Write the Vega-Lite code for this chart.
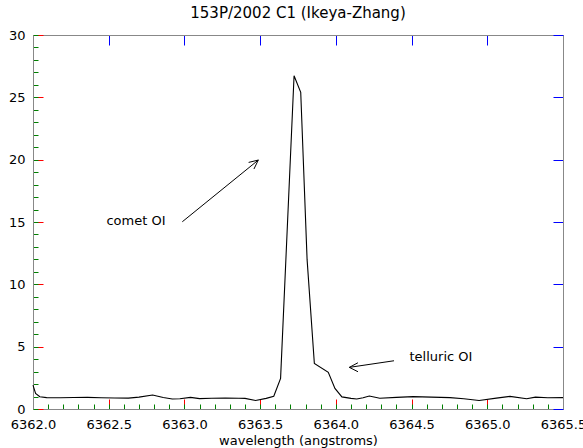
{
  "$schema": "https://vega.github.io/schema/vega-lite/v6.json",
  "width": 530,
  "height": 374,
  "autosize": "none",
  "padding": {"left": 33, "top": 35, "right": 20, "bottom": 39},
  "background": "white",
  "title": {"text": "153P/2002 C1 (Ikeya-Zhang)", "font": "DejaVu Sans", "fontSize": 15, "fontWeight": "normal", "color": "black", "anchor": "middle", "offset": 8},
  "config": {
    "view": {"stroke": "black", "strokeWidth": 1}
  },
  "datasets": {
    "spec": [
      {"w": 6362.0, "f": 1.92}, {"w": 6362.017, "f": 1.25}, {"w": 6362.045, "f": 0.98}, {"w": 6362.09, "f": 0.91},
      {"w": 6362.18, "f": 0.9}, {"w": 6362.27, "f": 0.92}, {"w": 6362.36, "f": 0.93}, {"w": 6362.45, "f": 0.9},
      {"w": 6362.54, "f": 0.88}, {"w": 6362.63, "f": 0.87}, {"w": 6362.7, "f": 0.95}, {"w": 6362.79, "f": 1.12},
      {"w": 6362.86, "f": 0.92}, {"w": 6362.92, "f": 0.8}, {"w": 6362.97, "f": 0.82}, {"w": 6363.04, "f": 0.93},
      {"w": 6363.1, "f": 0.83}, {"w": 6363.18, "f": 0.86}, {"w": 6363.27, "f": 0.88}, {"w": 6363.36, "f": 0.86},
      {"w": 6363.4, "f": 0.85}, {"w": 6363.47, "f": 0.68}, {"w": 6363.54, "f": 0.85}, {"w": 6363.59, "f": 1.02},
      {"w": 6363.635, "f": 2.46}, {"w": 6363.724, "f": 26.73}, {"w": 6363.768, "f": 25.4}, {"w": 6363.81, "f": 12.0},
      {"w": 6363.858, "f": 3.65}, {"w": 6363.95, "f": 2.94}, {"w": 6363.994, "f": 1.65}, {"w": 6364.04, "f": 0.97},
      {"w": 6364.1, "f": 0.85}, {"w": 6364.138, "f": 0.8}, {"w": 6364.18, "f": 0.9}, {"w": 6364.221, "f": 1.04},
      {"w": 6364.29, "f": 0.86}, {"w": 6364.4, "f": 0.93}, {"w": 6364.51, "f": 0.99}, {"w": 6364.63, "f": 0.95},
      {"w": 6364.754, "f": 0.91}, {"w": 6364.845, "f": 0.82}, {"w": 6364.946, "f": 0.68}, {"w": 6365.06, "f": 0.87},
      {"w": 6365.15, "f": 1.01}, {"w": 6365.26, "f": 0.82}, {"w": 6365.318, "f": 0.95}, {"w": 6365.4, "f": 0.9},
      {"w": 6365.5, "f": 0.91}
    ],
    "arrows": [
      {"x": 6362.986, "y": 15.02, "x2": 6363.488, "y2": 19.97},
      {"x": 6363.488, "y": 19.97, "x2": 6363.424, "y2": 19.78},
      {"x": 6363.488, "y": 19.97, "x2": 6363.459, "y2": 19.25},
      {"x": 6364.384, "y": 3.87, "x2": 6364.089, "y2": 3.34},
      {"x": 6364.089, "y": 3.34, "x2": 6364.146, "y2": 3.71},
      {"x": 6364.089, "y": 3.34, "x2": 6364.146, "y2": 2.99}
    ],
    "labels": [
      {"x": 6362.68, "y": 15.08, "text": "comet OI"},
      {"x": 6364.694, "y": 4.19, "text": "telluric OI"}
    ]
  },
  "layer": [
    {
      "data": {"name": "spec"},
      "mark": {"type": "line", "color": "black", "strokeWidth": 1.1},
      "encoding": {
        "x": {"field": "w", "type": "quantitative", "scale": {"domain": [6362, 6365.5], "nice": false, "zero": false},
              "axis": {"orient": "bottom", "grid": false, "values": [6362, 6362.5, 6363, 6363.5, 6364, 6364.5, 6365, 6365.5], "format": ".1f", "tickColor": "red", "tickSize": -10, "labelPadding": 19, "labelFlush": false, "labelOverlap": false, "labelColor": "black", "labelFont": "DejaVu Sans", "labelFontSize": 13, "title": "wavelength (angstroms)", "titleFont": "DejaVu Sans", "titleFontSize": 13, "titleFontWeight": "normal", "titleColor": "black", "titlePadding": 3}},
        "y": {"field": "f", "type": "quantitative", "scale": {"domain": [0, 30], "nice": false, "zero": false},
              "axis": {"orient": "left", "grid": false, "values": [0, 5, 10, 15, 20, 25, 30], "tickColor": "red", "tickSize": -10, "labelPadding": 18, "labelColor": "black", "labelFont": "DejaVu Sans", "labelFontSize": 13, "title": null}}
      }
    },
    {
      "data": {"name": "spec"},
      "mark": {"type": "line", "strokeOpacity": 0},
      "encoding": {
        "x": {"field": "w", "type": "quantitative",
              "axis": {"orient": "top", "grid": false, "values": [6362, 6362.5, 6363, 6363.5, 6364, 6364.5, 6365, 6365.5], "tickColor": "blue", "tickSize": -10, "labels": false, "title": null}},
        "y": {"field": "f", "type": "quantitative",
              "axis": {"orient": "right", "grid": false, "values": [0, 5, 10, 15, 20, 25, 30], "tickColor": "blue", "tickSize": -10, "labels": false, "title": null}}
      }
    },
    {
      "data": {"name": "spec"},
      "mark": {"type": "line", "strokeOpacity": 0},
      "encoding": {
        "x": {"field": "w", "type": "quantitative",
              "axis": {"orient": "bottom", "grid": false, "values": [6362.0, 6362.1, 6362.2, 6362.3, 6362.4, 6362.5, 6362.6, 6362.7, 6362.8, 6362.9, 6363.0, 6363.1, 6363.2, 6363.3, 6363.4, 6363.5, 6363.6, 6363.7, 6363.8, 6363.9, 6364.0, 6364.1, 6364.2, 6364.3, 6364.4, 6364.5, 6364.6, 6364.7, 6364.8, 6364.9, 6365.0, 6365.1, 6365.2, 6365.3, 6365.4, 6365.5], "tickColor": "green", "tickSize": -5, "labels": false, "title": null}},
        "y": {"field": "f", "type": "quantitative",
              "axis": {"orient": "left", "grid": false, "values": [0, 1, 2, 3, 4, 5, 6, 7, 8, 9, 10, 11, 12, 13, 14, 15, 16, 17, 18, 19, 20, 21, 22, 23, 24, 25, 26, 27, 28, 29, 30], "tickColor": "green", "tickSize": -5, "labels": false, "title": null}}
      }
    },
    {
      "data": {"name": "arrows"},
      "mark": {"type": "rule", "color": "black", "strokeWidth": 1},
      "encoding": {
        "x": {"field": "x", "type": "quantitative", "axis": null},
        "y": {"field": "y", "type": "quantitative", "axis": null},
        "x2": {"field": "x2"},
        "y2": {"field": "y2"}
      }
    },
    {
      "data": {"name": "labels"},
      "mark": {"type": "text", "font": "DejaVu Sans", "fontSize": 13, "color": "black", "align": "center", "baseline": "middle"},
      "encoding": {
        "x": {"field": "x", "type": "quantitative", "axis": null},
        "y": {"field": "y", "type": "quantitative", "axis": null},
        "text": {"field": "text"}
      }
    }
  ],
  "resolve": {"axis": {"x": "independent", "y": "independent"}}
}
